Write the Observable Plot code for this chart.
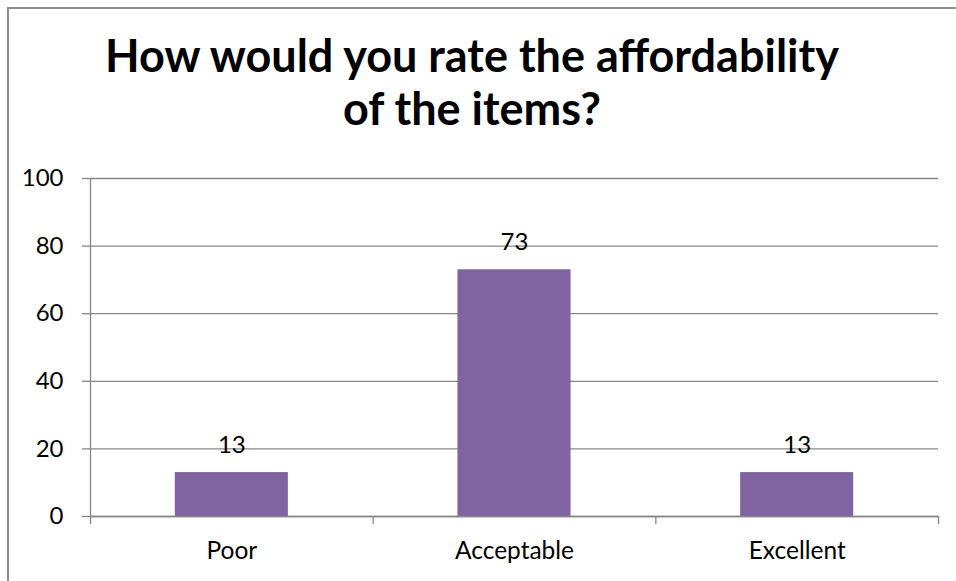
<!DOCTYPE html>
<html>
<head>
<meta charset="utf-8">
<script src="https://cdn.jsdelivr.net/npm/d3@7"></script>
<script src="https://cdn.jsdelivr.net/npm/@observablehq/plot@0.6"></script>
<style>
  html, body { margin: 0; padding: 0; background: #fff; width: 956px; height: 581px; overflow: hidden; }
  #frame { position: absolute; left: 7px; top: 7px; width: 1000px; height: 700px;
           border-left: 2px solid #8c8c8c; border-top: 2px solid #8c8c8c; pointer-events: none; }
  #title { width: 944px; height: 129px; padding-top: 29px; text-align: center;
           font-family: Lato, sans-serif; font-weight: bold; font-size: 45px; line-height: 53px; color: #000; }
  #chart svg { display: block; }
</style>
</head>
<body>
<div id="frame"></div>
<div id="title">How would you rate the affordability<br>of the items?</div>
<div id="chart"></div>
<script>
const categories = ["Poor", "Acceptable", "Excellent"];
const values = [13, 73, 13];
const yTicks = [0, 20, 40, 60, 80, 100];

const data = categories.map((c, i) => ({category: c, index: i, value: values[i]}));
const barColor = "#8064A2";
const axisColor = "#878787";

const chart = Plot.plot({
  width: 956,
  height: 423,
  marginLeft: 90,
  marginRight: 18,
  marginTop: 20,
  marginBottom: 65,
  style: {fontFamily: "Lato, sans-serif", fontSize: "24px", color: "#000", background: "#fff"},
  x: {type: "linear", domain: [0, categories.length], axis: null},
  y: {domain: [0, 100], axis: null},
  marks: [
    Plot.ruleY(yTicks, {stroke: axisColor, strokeWidth: 1.3}),
    Plot.rectY(data, {x1: d => d.index + 0.3, x2: d => d.index + 0.7, y1: 0, y2: "value", fill: barColor}),
    Plot.ruleY([0], {stroke: axisColor, strokeWidth: 1.3}),
    Plot.axisY({ticks: yTicks, tickSize: 8, tickPadding: 19, stroke: axisColor, strokeWidth: 1.3,
                fill: "#000", fontSize: 24, label: null}),
    Plot.ruleX([0], {stroke: axisColor, strokeWidth: 1.3}),
    Plot.axisX({ticks: d3.range(categories.length + 1), tickSize: 8, tickFormat: () => "",
                stroke: axisColor, strokeWidth: 1.3, label: null}),
    Plot.axisX({ticks: categories.map((c, i) => i + 0.5), tickSize: 0, tickPadding: 25,
                tickFormat: v => categories[Math.floor(v)], fill: "#000", fontSize: 24.5, label: null}),
    Plot.text(data, {x: d => d.index + 0.5, y: "value", text: d => String(d.value),
                     lineAnchor: "middle", dy: -27, fill: "#000", fontSize: 24})
  ]
});
document.getElementById("chart").appendChild(chart);
</script>
</body>
</html>
